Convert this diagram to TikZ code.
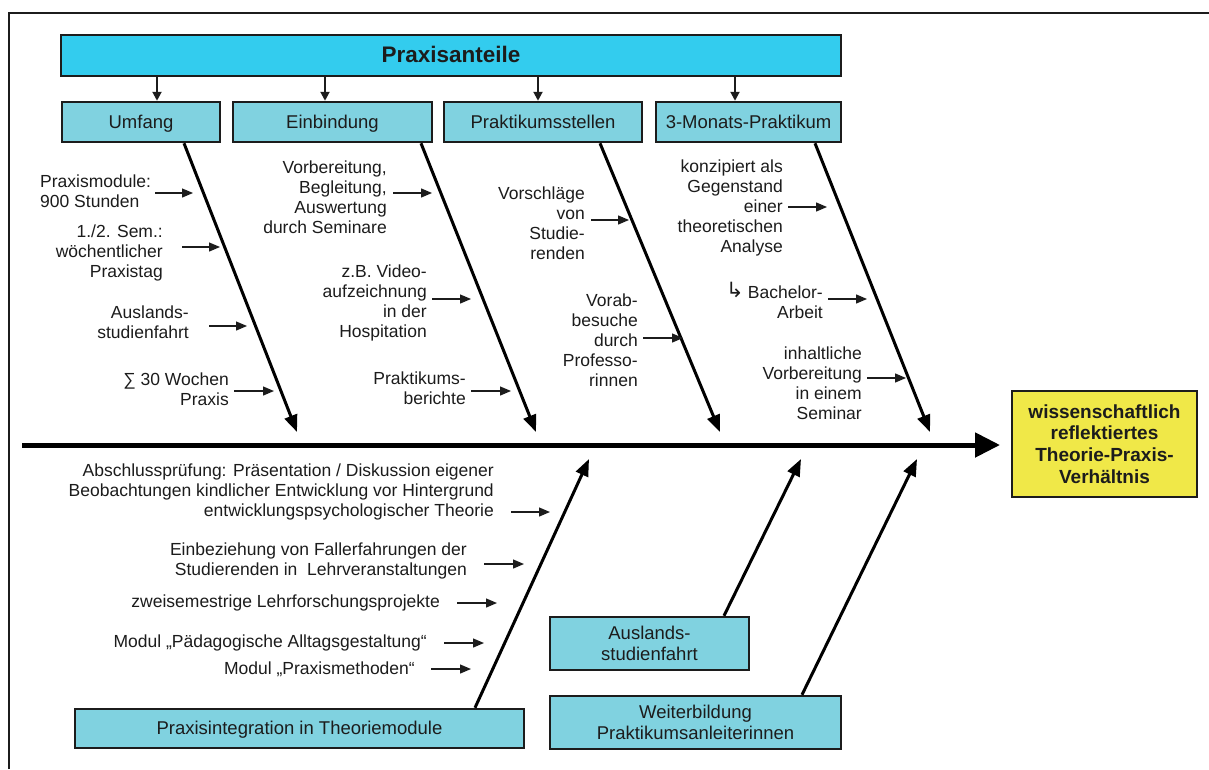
\documentclass[tikz,border=0pt]{standalone}
\usepackage{fontspec}
\setmainfont{Liberation Sans}
\newfontfamily\symfont{DejaVu Sans}
\usetikzlibrary{arrows.meta}
\definecolor{barcyan}{RGB}{51,204,238}
\definecolor{boxcyan}{RGB}{128,210,224}
\definecolor{goalyellow}{RGB}{240,232,72}
\definecolor{ink}{RGB}{28,28,28}
\tikzset{
  frame/.style={line width=2pt, draw=ink},
  headbar/.style={draw=ink, line width=2.5pt, fill=barcyan, inner sep=0pt,
    minimum height=41pt, text height=16pt, text depth=3pt,
    font=\fontsize{22.5}{26}\selectfont\bfseries, text=ink},
  catbox/.style={draw=ink, line width=2.5pt, fill=boxcyan, inner sep=0pt,
    align=center, font=\fontsize{18.5}{21}\selectfont, text=ink},
  oneline/.style={text height=15pt, text depth=3pt},
  goal/.style={draw=ink, line width=2.5pt, fill=goalyellow, inner sep=0pt,
    align=center, font=\fontsize{19}{21.7}\selectfont\bfseries, text=ink},
  note/.style={inner sep=0pt, align=right, font=\fontsize{17.5}{20}\selectfont, text=ink},
  feed/.style={-{Triangle[length=11pt,width=9pt]}, line width=1.3pt, draw=ink},
  bone/.style={-{Triangle[length=17pt,width=13pt]}, line width=3pt, draw=black},
  spine/.style={-{Triangle[length=25pt,width=24pt]}, line width=5pt, draw=black},
  drop/.style={-{Triangle[length=9pt,width=9pt]}, line width=2pt, draw=ink},
}
\begin{document}
\begin{tikzpicture}[x=1pt,y=-1pt]
\useasboundingbox (0,0) rectangle (1209,769);
\fill[white] (0,0) rectangle (1209,769);
\draw[frame] (8.5,769) -- (8.5,12.5) -- (1209,12.5);

% header bar and the four categories
\node[headbar, minimum width=780pt] (head) at (451,55.5) {Praxisanteile};
\node[catbox, oneline, minimum width=158pt, minimum height=40pt] (umfang) at (141,122) {Umfang};
\node[catbox, oneline, minimum width=199pt, minimum height=40pt] (einb) at (332.5,122) {Einbindung};
\node[catbox, oneline, minimum width=198pt, minimum height=40pt] (stellen) at (543,122) {Praktikumsstellen};
\node[catbox, oneline, minimum width=185pt, minimum height=40pt] (monat) at (748.5,122) {3-Monats-Praktikum};

\draw[drop] ([xshift=16pt]umfang.north |- head.south) -- ([xshift=16pt]umfang.north);
\draw[drop] ([xshift=-7.5pt]einb.north |- head.south) -- ([xshift=-7.5pt]einb.north);
\draw[drop] ([xshift=-5pt]stellen.north |- head.south) -- ([xshift=-5pt]stellen.north);
\draw[drop] ([xshift=-13.5pt]monat.north |- head.south) -- ([xshift=-13.5pt]monat.north);

% goal box and spine
\node[goal, minimum width=185pt, minimum height=106pt] (goal) at (1104.5,444)
  {wissenschaftlich\\reflektiertes\\Theorie-Praxis-\\Verhältnis};
\coordinate (spinestart) at (22,445);
\coordinate (spinetip) at (1000,445);
\draw[spine] (spinestart) -- (spinetip);

% upper bones
\coordinate (tipU) at (297,432);
\coordinate (tipE) at (536,432);
\coordinate (tipS) at (720,432);
\coordinate (tipM) at (930,432);
\draw[bone] ([xshift=43pt]umfang.south) -- (tipU);
\draw[bone] ([xshift=88.5pt]einb.south) -- (tipE);
\draw[bone] ([xshift=57pt]stellen.south) -- (tipS);
\draw[bone] ([xshift=66.5pt]monat.south) -- (tipM);

% lower boxes and bones
\node[catbox, oneline, minimum width=449pt, minimum height=39pt] (integ) at (299.5,728.5) {Praxisintegration in Theoriemodule};
\node[catbox, minimum width=199pt, minimum height=53pt] (ausl) at (649.5,643.5) {Auslands-\\studienfahrt};
\node[catbox, minimum width=291pt, minimum height=53pt] (weiter) at (695.5,722.5) {Weiterbildung\\Praktikumsanleiterinnen};
\coordinate (tipI) at (589,459);
\coordinate (tipA) at (801,459);
\coordinate (tipW) at (917,459);
\draw[bone] ([xshift=175.5pt]integ.north) -- (tipI);
\draw[bone] ([xshift=74.5pt]ausl.north) -- (tipA);
\draw[bone] ([xshift=106.5pt]weiter.north) -- (tipW);

% notes: Umfang
\node[note, anchor=west, align=left] (n1) at (40,191) {Praxismodule:\\900 Stunden};
\node[note, anchor=east] (n2) at (163,253) {1./2. Sem.:\\wöchentlicher\\Praxistag};
\node[note, anchor=east] (n3) at (189,322.5) {Auslands-\\studienfahrt};
\node[note, anchor=east] (n4) at (229,389.5) {∑ 30 Wochen\\Praxis};
% notes: Einbindung
\node[note, anchor=east] (n5) at (387,197.5) {Vorbereitung,\\Begleitung,\\Auswertung\\durch Seminare};
\node[note, anchor=east] (n6) at (427,303) {z.B. Video-\\aufzeichnung\\in der\\Hospitation};
\node[note, anchor=east] (n7) at (466,388) {Praktikums-\\berichte};
% notes: Praktikumsstellen
\node[note, anchor=east] (n8) at (585,223.5) {Vorschläge\\von\\Studie-\\renden};
\node[note, anchor=east] (n9) at (638,340) {Vorab-\\besuche\\durch\\Professo-\\rinnen};
% notes: 3-Monats-Praktikum
\node[note, anchor=east] (n10) at (783,207.5) {konzipiert als\\Gegenstand\\einer\\theoretischen\\Analyse};
\node[note, anchor=east] (n11) at (823,302.5) {Bachelor-\\Arbeit};
\node[inner sep=0pt, font=\symfont\fontsize{21}{21}\selectfont, text=ink] (hook) at (735,290) {↳};
\node[note, anchor=east] (n12) at (862,383) {inhaltliche\\Vorbereitung\\in einem\\Seminar};
% notes: Praxisintegration
\node[note, anchor=east] (n13) at (494,492) {Abschlussprüfung: Präsentation / Diskussion eigener\\Beobachtungen kindlicher Entwicklung vor Hintergrund\\entwicklungspsychologischer Theorie};
\node[note, anchor=east] (n14) at (467,560.5) {Einbeziehung von Fallerfahrungen der\\Studierenden in\ \ Lehrveranstaltungen};
\node[note, anchor=east] (n15) at (440,603) {zweisemestrige Lehrforschungsprojekte};
\node[note, anchor=east] (n16) at (427,643) {Modul „Pädagogische Alltagsgestaltung“};
\node[note, anchor=east] (n17) at (415,669) {Modul „Praxismethoden“};

% feed arrows from the notes towards the bones
\coordinate (f1a) at (155,193);  \coordinate (f1b) at (193,193);
\coordinate (f2a) at (182,247);  \coordinate (f2b) at (220,247);
\coordinate (f3a) at (209,326);  \coordinate (f3b) at (247,326);
\coordinate (f4a) at (234,391);  \coordinate (f4b) at (274,391);
\coordinate (f5a) at (393,193);  \coordinate (f5b) at (432,193);
\coordinate (f6a) at (432,299);  \coordinate (f6b) at (471,299);
\coordinate (f7a) at (471,391);  \coordinate (f7b) at (511,391);
\coordinate (f8a) at (591,220);  \coordinate (f8b) at (629,220);
\coordinate (f9a) at (643,338);  \coordinate (f9b) at (683,338);
\coordinate (f10a) at (788,207); \coordinate (f10b) at (827,207);
\coordinate (f11a) at (828,299); \coordinate (f11b) at (867,299);
\coordinate (f12a) at (867,378); \coordinate (f12b) at (906,378);
\coordinate (f13a) at (511,512); \coordinate (f13b) at (550,512);
\coordinate (f14a) at (484,564); \coordinate (f14b) at (524,564);
\coordinate (f15a) at (457,603); \coordinate (f15b) at (497,603);
\coordinate (f16a) at (444,643); \coordinate (f16b) at (484,643);
\coordinate (f17a) at (431,669); \coordinate (f17b) at (471,669);
\foreach \k in {1,...,17} { \draw[feed] (f\k a) -- (f\k b); }
\end{tikzpicture}
\end{document}
